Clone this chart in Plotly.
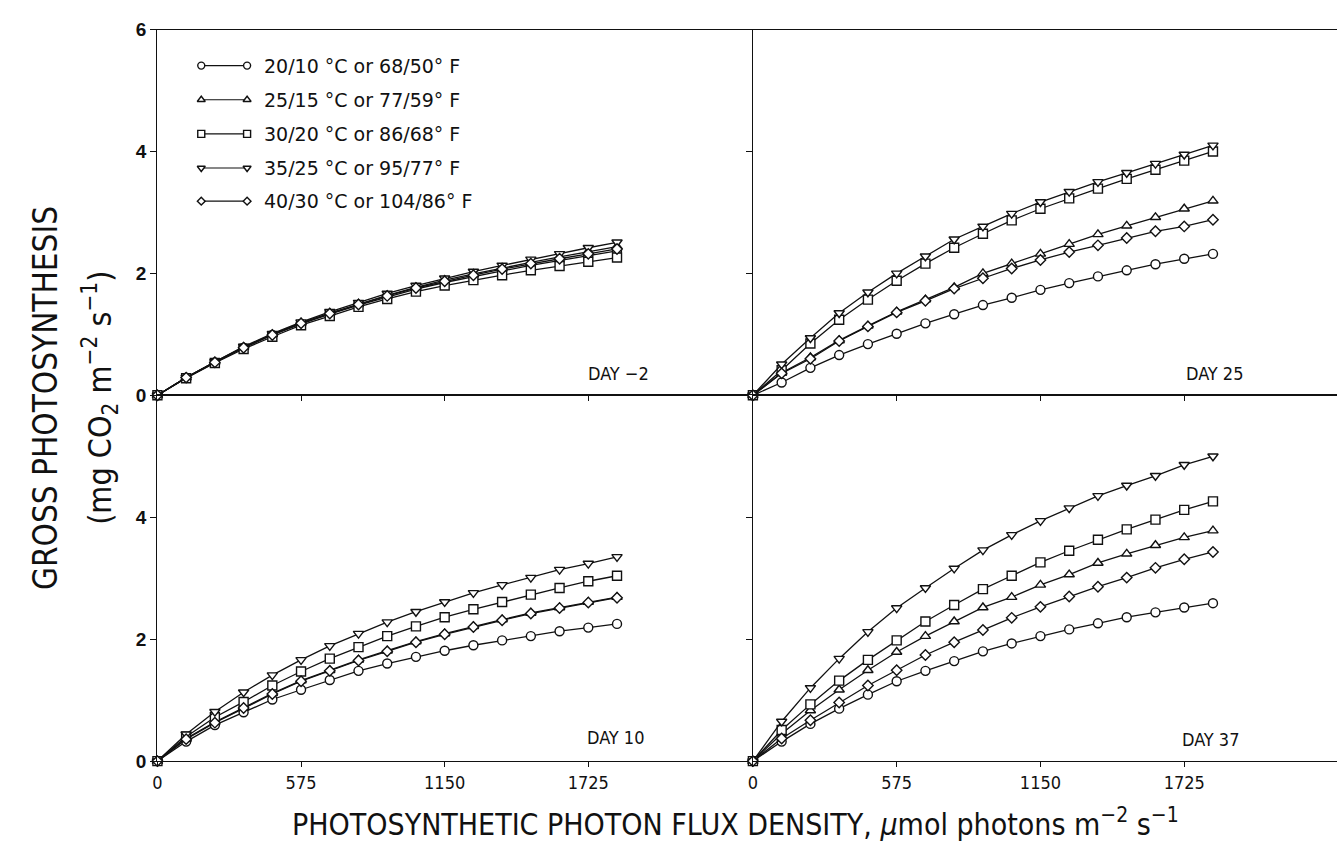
import plotly.graph_objects as go

# Photosynthetic photon flux density (umol photons m-2 s-1)
ppfd = [0, 115, 230, 345, 460, 575, 690, 805, 920, 1035, 1150, 1265, 1380, 1495, 1610, 1725, 1840]

series_names = [
    "20/10 °C or 68/50° F",
    "25/15 °C or 77/59° F",
    "30/20 °C or 86/68° F",
    "35/25 °C or 95/77° F",
    "40/30 °C or 104/86° F",
]

# Gross photosynthesis (mg CO2 m-2 s-1), one list per temperature regime
day_m2_20_10 = [0, 0.29, 0.54, 0.78, 0.99, 1.17, 1.33, 1.48, 1.61, 1.74, 1.85, 1.95, 2.04, 2.13, 2.21, 2.29, 2.37]
day_m2_25_15 = [0, 0.29, 0.55, 0.79, 1.00, 1.19, 1.35, 1.50, 1.64, 1.77, 1.89, 1.99, 2.09, 2.18, 2.27, 2.36, 2.44]
day_m2_30_20 = [0, 0.28, 0.53, 0.76, 0.96, 1.15, 1.30, 1.45, 1.58, 1.70, 1.80, 1.89, 1.97, 2.05, 2.12, 2.19, 2.26]
day_m2_35_25 = [0, 0.29, 0.55, 0.80, 1.01, 1.20, 1.37, 1.52, 1.67, 1.80, 1.92, 2.03, 2.13, 2.23, 2.32, 2.42, 2.51]
day_m2_40_30 = [0, 0.29, 0.54, 0.78, 0.99, 1.18, 1.34, 1.49, 1.63, 1.76, 1.87, 1.97, 2.07, 2.16, 2.24, 2.32, 2.40]

day10_20_10 = [0, 0.32, 0.59, 0.80, 1.01, 1.17, 1.33, 1.48, 1.60, 1.71, 1.81, 1.90, 1.98, 2.05, 2.13, 2.19, 2.25]
day10_25_15 = [0, 0.37, 0.64, 0.88, 1.11, 1.32, 1.49, 1.66, 1.81, 1.96, 2.09, 2.21, 2.32, 2.43, 2.52, 2.61, 2.69]
day10_30_20 = [0, 0.40, 0.72, 0.97, 1.24, 1.47, 1.68, 1.87, 2.05, 2.21, 2.36, 2.49, 2.61, 2.73, 2.84, 2.95, 3.04]
day10_35_25 = [0, 0.44, 0.81, 1.13, 1.41, 1.66, 1.89, 2.09, 2.28, 2.45, 2.61, 2.76, 2.89, 3.01, 3.14, 3.24, 3.35]
day10_40_30 = [0, 0.36, 0.63, 0.87, 1.10, 1.31, 1.48, 1.65, 1.80, 1.95, 2.08, 2.20, 2.31, 2.42, 2.51, 2.60, 2.68]

day25_20_10 = [0, 0.21, 0.45, 0.66, 0.84, 1.01, 1.18, 1.33, 1.48, 1.60, 1.73, 1.84, 1.95, 2.05, 2.15, 2.24, 2.32]
day25_25_15 = [0, 0.37, 0.62, 0.90, 1.14, 1.37, 1.57, 1.77, 2.00, 2.16, 2.32, 2.48, 2.64, 2.78, 2.92, 3.06, 3.19]
day25_30_20 = [0, 0.41, 0.85, 1.24, 1.57, 1.88, 2.16, 2.42, 2.65, 2.87, 3.06, 3.23, 3.39, 3.55, 3.70, 3.85, 4.00]
day25_35_25 = [0, 0.51, 0.94, 1.35, 1.69, 2.00, 2.28, 2.56, 2.77, 2.98, 3.17, 3.34, 3.50, 3.65, 3.80, 3.95, 4.10]
day25_40_30 = [0, 0.36, 0.60, 0.89, 1.13, 1.36, 1.55, 1.75, 1.92, 2.08, 2.22, 2.35, 2.46, 2.58, 2.69, 2.77, 2.88]

day37_20_10 = [0, 0.32, 0.61, 0.86, 1.09, 1.31, 1.48, 1.64, 1.80, 1.93, 2.05, 2.16, 2.26, 2.36, 2.44, 2.52, 2.59]
day37_25_15 = [0, 0.45, 0.83, 1.17, 1.49, 1.79, 2.05, 2.29, 2.52, 2.69, 2.89, 3.06, 3.25, 3.40, 3.54, 3.67, 3.78]
day37_30_20 = [0, 0.51, 0.93, 1.32, 1.66, 1.98, 2.29, 2.56, 2.82, 3.04, 3.26, 3.45, 3.63, 3.80, 3.96, 4.12, 4.26]
day37_35_25 = [0, 0.65, 1.20, 1.68, 2.12, 2.51, 2.84, 3.16, 3.46, 3.71, 3.94, 4.15, 4.35, 4.52, 4.68, 4.86, 5.00]
day37_40_30 = [0, 0.37, 0.67, 0.96, 1.24, 1.49, 1.74, 1.95, 2.15, 2.35, 2.53, 2.70, 2.86, 3.01, 3.17, 3.31, 3.43]

panels = [
    # (panel label, x axis id, y axis id, series in regime order)
    ("DAY −2", "x", "y", [day_m2_20_10, day_m2_25_15, day_m2_30_20, day_m2_35_25, day_m2_40_30]),
    ("DAY 25", "x2", "y2", [day25_20_10, day25_25_15, day25_30_20, day25_35_25, day25_40_30]),
    ("DAY 10", "x3", "y3", [day10_20_10, day10_25_15, day10_30_20, day10_35_25, day10_40_30]),
    ("DAY 37", "x4", "y4", [day37_20_10, day37_25_15, day37_30_20, day37_35_25, day37_40_30]),
]

x_ticks = [0, 575, 1150, 1725]
y_ticks = [0, 2, 4, 6]

symbols = ["circle", "triangle-up", "square", "triangle-down", "diamond"]
sizes = [9, 9, 9, 9, 8]
INK = "#111111"
NARROW = "Liberation Sans Narrow, Arial Narrow, DejaVu Sans Condensed, Liberation Sans, sans-serif"

fig = go.Figure()

for label, xa, ya, data in panels:
    for name, sym, sz, vals in zip(series_names, symbols, sizes, data):
        fig.add_trace(go.Scatter(
            x=ppfd, y=vals, xaxis=xa, yaxis=ya, mode="lines+markers",
            name=name, showlegend=False, cliponaxis=False,
            line=dict(color=INK, width=1.3),
            marker=dict(symbol=sym, size=sz, color="white",
                        line=dict(color=INK, width=1.4)),
        ))

# Key: marker — line — marker samples beside each regime name
key_rows = [57, 92, 127, 162, 196]
key_x = [197, 243]
for sym, sz, row in zip(symbols, sizes, key_rows):
    fig.add_trace(go.Scatter(
        x=key_x, y=[row, row], xaxis="x5", yaxis="y5", mode="lines+markers",
        showlegend=False, hoverinfo="skip", cliponaxis=False,
        line=dict(color=INK, width=1.2),
        marker=dict(symbol=sym, size=sz - 2, color="white",
                    line=dict(color=INK, width=1.4)),
    ))

W, H = 1337, 855
x_left = [153 / W, 750.7 / W]
x_right = [750.7 / W, 1.0]
y_top = [1 - 395 / H, 1 - 20 / H]
y_bot = [1 - 770 / H, 1 - 395 / H]
range_left = [0, 2384]
range_right = [0, 2336]

ytick_font = dict(family="Liberation Sans, Arial, sans-serif", size=19, color=INK, weight="bold")
xtick_font = dict(family=NARROW, size=18, color=INK)

common_x = dict(showgrid=False, zeroline=False, showline=True, linecolor=INK, linewidth=1.3,
                mirror=True, ticks="outside", ticklen=5, tickwidth=1.3, tickcolor=INK,
                tickvals=x_ticks, tickfont=xtick_font)
common_y = dict(showgrid=False, zeroline=False, showline=True, linecolor=INK, linewidth=1.4,
                ticks="outside", ticklen=6, tickwidth=1.3, tickcolor=INK,
                range=[y_ticks[0], y_ticks[-1]], tickfont=ytick_font)
# inner halves of the crossing tick marks
overlay = dict(showgrid=False, zeroline=False, showline=False, showticklabels=False,
               ticks="inside", ticklen=5, tickwidth=1.3, tickcolor=INK)

fig.update_layout(
    width=W, height=H,
    margin=dict(l=0, r=0, t=0, b=0),
    paper_bgcolor="white", plot_bgcolor="rgba(0,0,0,0)",
    xaxis=dict(common_x, domain=x_left, range=range_left, anchor="y", showticklabels=False,
               tickvals=x_ticks[1:]),
    yaxis=dict(common_y, domain=y_top, anchor="x", tickvals=y_ticks),
    xaxis2=dict(common_x, domain=x_right, range=range_right, anchor="y2", showticklabels=False,
                tickvals=x_ticks[1:]),
    yaxis2=dict(common_y, domain=y_top, anchor="x2", tickvals=y_ticks[1:3], showticklabels=False),
    xaxis3=dict(common_x, domain=x_left, range=range_left, anchor="y3"),
    yaxis3=dict(common_y, domain=y_bot, anchor="x3", tickvals=y_ticks[:3]),
    xaxis4=dict(common_x, domain=x_right, range=range_right, anchor="y4"),
    yaxis4=dict(common_y, domain=y_bot, anchor="x4", tickvals=y_ticks[1:3], showticklabels=False),
    xaxis5=dict(domain=[0, 1], range=[0, W], visible=False, fixedrange=True),
    yaxis5=dict(domain=[0, 1], range=[H, 0], visible=False, fixedrange=True, anchor="x5"),
    xaxis6=dict(overlay, overlaying="x", range=range_left, anchor="y", tickvals=x_ticks[1:]),
    xaxis7=dict(overlay, overlaying="x2", range=range_right, anchor="y2", tickvals=x_ticks[1:]),
    yaxis6=dict(overlay, overlaying="y2", range=[0, 6], anchor="x2", tickvals=y_ticks[1:3]),
    yaxis7=dict(overlay, overlaying="y4", range=[0, 6], anchor="x4", tickvals=y_ticks[1:3]),
)

annotations = []
# panel labels
for text, px, py in [("DAY −2", 648, 373), ("DAY 25", 1245, 373),
                     ("DAY 10", 643, 746), ("DAY 37", 1241, 748)]:
    annotations.append(dict(text=text, x=px / W, y=1 - py / H, xref="paper", yref="paper",
                            xanchor="right", yanchor="middle", showarrow=False,
                            font=dict(family=NARROW, size=18, color=INK)))
# key text
for name, row in zip(series_names, key_rows):
    annotations.append(dict(text=name, x=258 / W, y=1 - row / H, xref="paper", yref="paper",
                            xanchor="left", yanchor="middle", showarrow=False,
                            font=dict(family="DejaVu Sans, sans-serif", size=19, color=INK)))
# axis titles
annotations.append(dict(text="GROSS PHOTOSYNTHESIS", x=40 / W, y=1 - 398 / H,
                        xref="paper", yref="paper", textangle=-90, showarrow=False,
                        xanchor="center", yanchor="middle",
                        font=dict(family=NARROW, size=33, color=INK)))
annotations.append(dict(text="(mg CO<sub>2</sub> m<sup>−2</sup> s<sup>−1</sup>)", x=95 / W, y=1 - 398 / H,
                        xref="paper", yref="paper", textangle=-90, showarrow=False,
                        xanchor="center", yanchor="middle",
                        font=dict(family=NARROW, size=32, color=INK)))
annotations.append(dict(text="PHOTOSYNTHETIC PHOTON FLUX DENSITY, <i>μ</i>mol photons m<sup>−2</sup> s<sup>−1</sup>",
                        x=733 / W, y=1 - 833 / H, xref="paper", yref="paper",
                        showarrow=False, xanchor="center", yanchor="middle",
                        font=dict(family=NARROW, size=30, color=INK)))
fig.update_layout(annotations=annotations)

fig.write_html("out.html")
